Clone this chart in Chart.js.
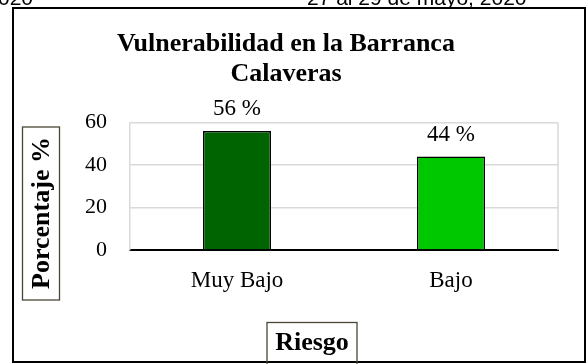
<!DOCTYPE html>
<html>
<head>
<meta charset="utf-8">
<script src="https://cdn.jsdelivr.net/npm/chart.js@4"></script>
<style>
  html, body { margin: 0; padding: 0; background: #fff; }
  #wrap { position: relative; width: 588px; height: 364px; overflow: hidden; }
</style>
</head>
<body>
<div id="wrap"><canvas id="riesgoChart" width="588" height="364"></canvas></div>
<script>
// datos del gráfico
const categorias = ['Muy Bajo', 'Bajo'];
const porcentajes = [56, 44];
const coloresBarras = ['#006400', '#00c800'];
const ticksY = [0, 20, 40, 60];
const tituloLineas = ['Vulnerabilidad en la Barranca', 'Calaveras'];
const tituloEjeY = 'Porcentaje %';
const tituloEjeX = 'Riesgo';
const encabezadoIzq = '2020';
const encabezadoDer = '27 al 29 de mayo, 2020';

const serif = '"Liberation Serif", "Times New Roman", serif';
const ctx = document.getElementById('riesgoChart').getContext('2d');

// recuadro, encabezado, título y títulos de ejes con caja
const marco = {
    id: 'marco',
    beforeDatasetsDraw(chart) {
        const { ctx, chartArea } = chart;
        // borde derecho gris del área de trazado
        ctx.save();
        ctx.strokeStyle = '#d9d9d9';
        ctx.lineWidth = 1.5;
        ctx.beginPath();
        ctx.moveTo(chartArea.right, chartArea.top);
        ctx.lineTo(chartArea.right, chartArea.bottom);
        ctx.stroke();
        ctx.restore();
    },
    afterDraw(chart) {
        const { ctx } = chart;
        ctx.save();

        // encabezado de página (cortado arriba)
        ctx.fillStyle = '#000';
        ctx.font = '21px "Liberation Sans", Arial, sans-serif';
        ctx.textBaseline = 'alphabetic';
        ctx.textAlign = 'right';
        ctx.fillText(encabezadoIzq, 33, 4.5);
        ctx.textAlign = 'left';
        ctx.fillText(encabezadoDer, 307, 4.5);

        // marco exterior
        ctx.strokeStyle = '#000';
        ctx.lineWidth = 2;
        ctx.strokeRect(13, 8, 572, 354);

        // título
        ctx.font = 'bold 26px ' + serif;
        ctx.textAlign = 'center';
        ctx.fillText(tituloLineas[0], 286, 51);
        ctx.fillText(tituloLineas[1], 286, 81);

        // título del eje Y
        ctx.strokeStyle = '#4a4535';
        ctx.lineWidth = 1.3;
        ctx.strokeRect(22.5, 127, 37, 173);
        ctx.save();
        ctx.translate(41, 213);
        ctx.rotate(-Math.PI / 2);
        ctx.textBaseline = 'middle';
        ctx.fillText(tituloEjeY, 0, 1);
        ctx.restore();

        // título del eje X
        ctx.fillStyle = '#fff';
        ctx.fillRect(267, 322.5, 90, 38);
        ctx.strokeRect(267, 322.5, 90, 45);
        ctx.fillStyle = '#000';
        ctx.textBaseline = 'alphabetic';
        ctx.fillText(tituloEjeX, 312, 350);

        ctx.restore();
    }
};

// etiquetas de valor sobre cada barra
const etiquetas = {
    id: 'etiquetas',
    afterDatasetsDraw(chart) {
        const { ctx } = chart;
        const meta = chart.getDatasetMeta(0);
        ctx.save();
        ctx.fillStyle = '#000';
        ctx.font = '23px ' + serif;
        ctx.textAlign = 'center';
        ctx.textBaseline = 'alphabetic';
        meta.data.forEach((bar, i) => {
            ctx.fillText(porcentajes[i] + ' %', bar.x, bar.y - 16);
        });
        ctx.restore();
    }
};

const chart = new Chart(ctx, {
    type: 'bar',
    data: {
        labels: categorias,
        datasets: [{
            data: porcentajes,
            backgroundColor: coloresBarras,
            borderColor: '#000',
            borderWidth: 1.5,
            borderSkipped: 'bottom',
            categoryPercentage: 1,
            barPercentage: 0.318,
        }],
    },
    options: {
        responsive: false,
        animation: false,
        layout: { padding: { top: 122.5, right: 30, left: 0, bottom: 0 } },
        plugins: {
            legend: { display: false },
            title: { display: false },
            tooltip: { enabled: false },
        },
        scales: {
            x: {
                grid: { display: false },
                border: { display: true, color: '#000', width: 2 },
                ticks: {
                    color: '#000',
                    padding: 9,
                    font: { family: serif, size: 23 },
                },
                afterFit(scale) { scale.height = 114; },
            },
            y: {
                min: 0,
                max: 60,
                afterBuildTicks(scale) {
                    scale.ticks = ticksY.map(v => ({ value: v }));
                },
                grid: { color: '#d9d9d9', lineWidth: 1.5, drawTicks: false },
                border: { display: true, color: '#d9d9d9', width: 1.5 },
                ticks: {
                    color: '#000',
                    padding: 23,
                    font: { family: serif, size: 22 },
                },
                afterFit(scale) { scale.width = 130; },
            },
        },
    },
    plugins: [marco, etiquetas],
});
</script>
</body>
</html>
